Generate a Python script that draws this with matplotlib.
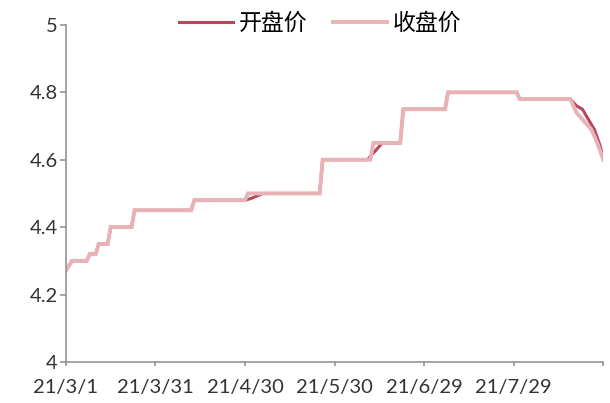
import matplotlib.pyplot as plt
import pandas as pd

plt.rcParams['font.family'] = ['Lato', 'Noto Sans CJK SC', 'DejaVu Sans']

# 开盘价 / 收盘价 关键点（日期, 价格）
open_dates = ['2021-03-01', '2021-03-03', '2021-03-08', '2021-03-09', '2021-03-11', '2021-03-12',
              '2021-03-15', '2021-03-16', '2021-03-23', '2021-03-24', '2021-04-12', '2021-04-13',
              '2021-04-30', '2021-05-02', '2021-05-06', '2021-05-25', '2021-05-26', '2021-06-10',
              '2021-06-15', '2021-06-21', '2021-06-22', '2021-07-06', '2021-07-07', '2021-07-30',
              '2021-07-31', '2021-08-17', '2021-08-19', '2021-08-21', '2021-08-23', '2021-08-25',
              '2021-08-27', '2021-08-28']
open_values = [4.27, 4.30, 4.30, 4.32, 4.32, 4.35,
               4.35, 4.40, 4.40, 4.45, 4.45, 4.48,
               4.48, 4.485, 4.50, 4.50, 4.60, 4.60,
               4.65, 4.65, 4.75, 4.75, 4.80, 4.80,
               4.78, 4.78, 4.76, 4.75, 4.72, 4.69,
               4.64, 4.60]

close_dates = ['2021-03-01', '2021-03-03', '2021-03-08', '2021-03-09', '2021-03-11', '2021-03-12',
               '2021-03-15', '2021-03-16', '2021-03-23', '2021-03-24', '2021-04-12', '2021-04-13',
               '2021-04-30', '2021-05-01', '2021-05-25', '2021-05-26', '2021-06-11', '2021-06-12',
               '2021-06-21', '2021-06-22', '2021-07-06', '2021-07-07', '2021-07-30', '2021-07-31',
               '2021-08-17', '2021-08-19', '2021-08-21', '2021-08-24', '2021-08-26', '2021-08-28']
close_values = [4.27, 4.30, 4.30, 4.32, 4.32, 4.35,
                4.35, 4.40, 4.40, 4.45, 4.45, 4.48,
                4.48, 4.50, 4.50, 4.60, 4.60, 4.65,
                4.65, 4.75, 4.75, 4.80, 4.80, 4.78,
                4.78, 4.74, 4.72, 4.69, 4.65, 4.60]

tick_dates = ['2021-03-01', '2021-03-31', '2021-04-30', '2021-05-30', '2021-06-29', '2021-07-29', '2021-08-28']
tick_labels = ['21/3/1', '21/3/31', '21/4/30', '21/5/30', '21/6/29', '21/7/29', '']
y_ticks = [4, 4.2, 4.4, 4.6, 4.8, 5]

fig = plt.figure(figsize=(6.1, 4.03), dpi=100)
ax = fig.add_axes([0.108, 0.102, 0.881, 0.836])

ax.plot(pd.to_datetime(open_dates), open_values, color='#B4475A', lw=2.2, label='开盘价',
        solid_joinstyle='miter')
ax.plot(pd.to_datetime(close_dates), close_values, color='#E8B2B7', lw=2.8, label='收盘价',
        solid_joinstyle='miter')

ax.set_xlim(pd.Timestamp('2021-03-01'), pd.Timestamp('2021-08-28'))
ax.set_ylim(4, 5)
ax.set_xticks(pd.to_datetime(tick_dates))
ax.set_xticklabels(tick_labels)
ax.set_yticks(y_ticks)
ax.set_yticklabels([f'{v:g}' for v in y_ticks])

for s in ['top', 'right']:
    ax.spines[s].set_visible(False)
for s in ['left', 'bottom']:
    ax.spines[s].set_color('#8C8C8C')
    ax.spines[s].set_linewidth(1.1)
ax.tick_params(colors='#8C8C8C', labelcolor='#333333', labelsize=14.5, width=1.1)
ax.tick_params(axis='y', length=4.5, pad=1.5)
ax.tick_params(axis='x', length=3, pad=9)

ax.legend(loc='upper center', bbox_to_anchor=(0.473, 1.10), ncol=2, frameon=False,
          prop={'family': ['Noto Sans CJK SC'], 'size': 16.5}, handlelength=2.36,
          handletextpad=0.22, columnspacing=1.13)

fig.savefig('out.png', dpi=100)
